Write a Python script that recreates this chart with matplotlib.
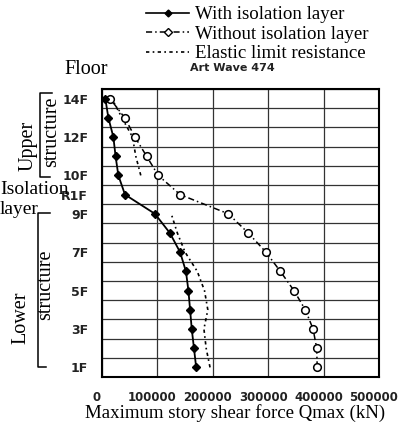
import numpy as np
import matplotlib
matplotlib.use("Agg")
import matplotlib.pyplot as plt
import matplotlib.transforms as mtransforms
from matplotlib.lines import Line2D

# story levels: 1..9 = 1F..9F, 10 = isolation layer, 11..15 = 10F..14F
levels = np.arange(1, 16)
tick_pos = [1, 3, 5, 7, 9, 10, 11, 13, 15]
tick_lab = ['1F', '3F', '5F', '7F', '9F', 'R1F', '10F', '12F', '14F']

with_iso = [170000, 166000, 162000, 159000, 156000, 151500, 141000, 122500, 95500,
            41500, 29500, 24500, 20500, 11500, 6000]
without_iso = [388500, 387500, 381000, 367000, 346500, 322000, 296000, 264000, 228000,
               141000, 101500, 80500, 59500, 41000, 14500]
elastic = [195000, 188000, 184000, 191000, 185000, 172000, 150000, 136000, 125000,
           np.nan, 70000, 61000, 55000, 36000, 18000]

xticks = [0, 100000, 200000, 300000, 400000, 500000]

serif = 'Liberation Serif'
sans = 'DejaVu Sans'

W, H = 408, 429
fig = plt.figure(figsize=(W / 100, H / 100), dpi=100)
ax = fig.add_axes([102 / W, 1 - 377 / H, (379 - 102) / W, (377 - 89) / H])

ax.plot(elastic, levels, color='black', lw=1.2, ls=(0, (2, 2, 1, 2)))
ax.plot(without_iso, levels, color='black', lw=1.1, ls=(0, (4, 2, 1, 2)),
        marker='o', ms=5.5, mfc='white', mec='black', mew=1.1)
ax.plot(with_iso, levels, color='black', lw=1.3, marker='D', ms=4.5,
        mfc='black', mec='black')

ax.set_xlim(0, 500000)
ax.set_ylim(0.5, 15.5)
ax.set_xticks(xticks)
ax.set_xticklabels([str(v) for v in xticks])
ax.set_yticks(tick_pos)
ax.set_yticklabels(tick_lab)
ax.set_yticks(np.arange(0.5, 15.6, 1), minor=True)
ax.tick_params(which='both', length=0)
ax.tick_params(axis='y', pad=10, labelsize=9, labelcolor='#222222')
ax.tick_params(axis='x', pad=10, labelsize=8.5, labelcolor='#222222')
for lab in ax.get_xticklabels() + ax.get_yticklabels():
    lab.set_fontfamily(sans)
    lab.set_fontweight('bold')
off = mtransforms.ScaledTranslation(-5 / 100, 0, fig.dpi_scale_trans)
for lab in ax.get_xticklabels():
    lab.set_transform(lab.get_transform() + off)

ax.grid(True, axis='x', which='major', color='#333333', lw=0.9)
ax.grid(True, axis='y', which='minor', color='#333333', lw=0.9)
for s in ax.spines.values():
    s.set_linewidth(1.5)
    s.set_color('black')

# titles and annotations
fig.text(232 / W, 1 - 68 / H, 'Art Wave 474', ha='center', va='center',
         family=sans, fontweight='bold', fontsize=8, color='#222222')
fig.text(86 / W, 1 - 69 / H, 'Floor', ha='center', va='center',
         family=serif, fontsize=14.5)
fig.text(235 / W, 1 - 413 / H, 'Maximum story shear force Qmax (kN)',
         ha='center', va='center', family=serif, fontsize=13.6)

# upper structure bracket
fig.text(28 / W, 1 - 146 / H, 'Upper', rotation=90, ha='center', va='center',
         family=serif, fontsize=14.5)
fig.text(52 / W, 1 - 132 / H, 'structure', rotation=90, ha='center', va='center',
         family=serif, fontsize=14.5)
fig.add_artist(Line2D([52 / W, 40 / W, 40 / W, 50 / W],
                      [1 - 93 / H, 1 - 93 / H, 1 - 177 / H, 1 - 177 / H],
                      color='black', lw=1.1))

# isolation layer (overlaps the isolation floor label, as in the original)
fig.text(0, 1 - 189 / H, 'Isolation', ha='left', va='center',
         family=serif, fontsize=14)
fig.text(0, 1 - 209 / H, 'layer', ha='left', va='center',
         family=serif, fontsize=14)

# lower structure bracket
fig.text(21 / W, 1 - 318 / H, 'Lower', rotation=90, ha='center', va='center',
         family=serif, fontsize=14.5)
fig.text(46 / W, 1 - 285 / H, 'structure', rotation=90, ha='center', va='center',
         family=serif, fontsize=14.5)
fig.add_artist(Line2D([50 / W, 38 / W, 38 / W, 46 / W],
                      [1 - 213 / H, 1 - 213 / H, 1 - 367 / H, 1 - 367 / H],
                      color='black', lw=1.1))

handles = [
    Line2D([], [], color='black', lw=1.2, marker='D', ms=3.5, mfc='black'),
    Line2D([], [], color='black', lw=1.1, ls=(0, (4, 2, 1, 2)), marker='D', ms=4,
           mfc='white', mec='black'),
    Line2D([], [], color='black', lw=1.2, ls=(0, (2, 2, 1, 2))),
]
labels = ['With isolation layer', 'Without isolation layer', 'Elastic limit resistance']
fig.legend(handles, labels, loc='upper left', bbox_to_anchor=(146 / W, 1 - 6 / H),
           frameon=False, prop={'family': serif, 'size': 13.6}, borderpad=0,
           borderaxespad=0, handlelength=2.3, handletextpad=0.3, labelspacing=0.12)

fig.savefig('out.png', dpi=100)
